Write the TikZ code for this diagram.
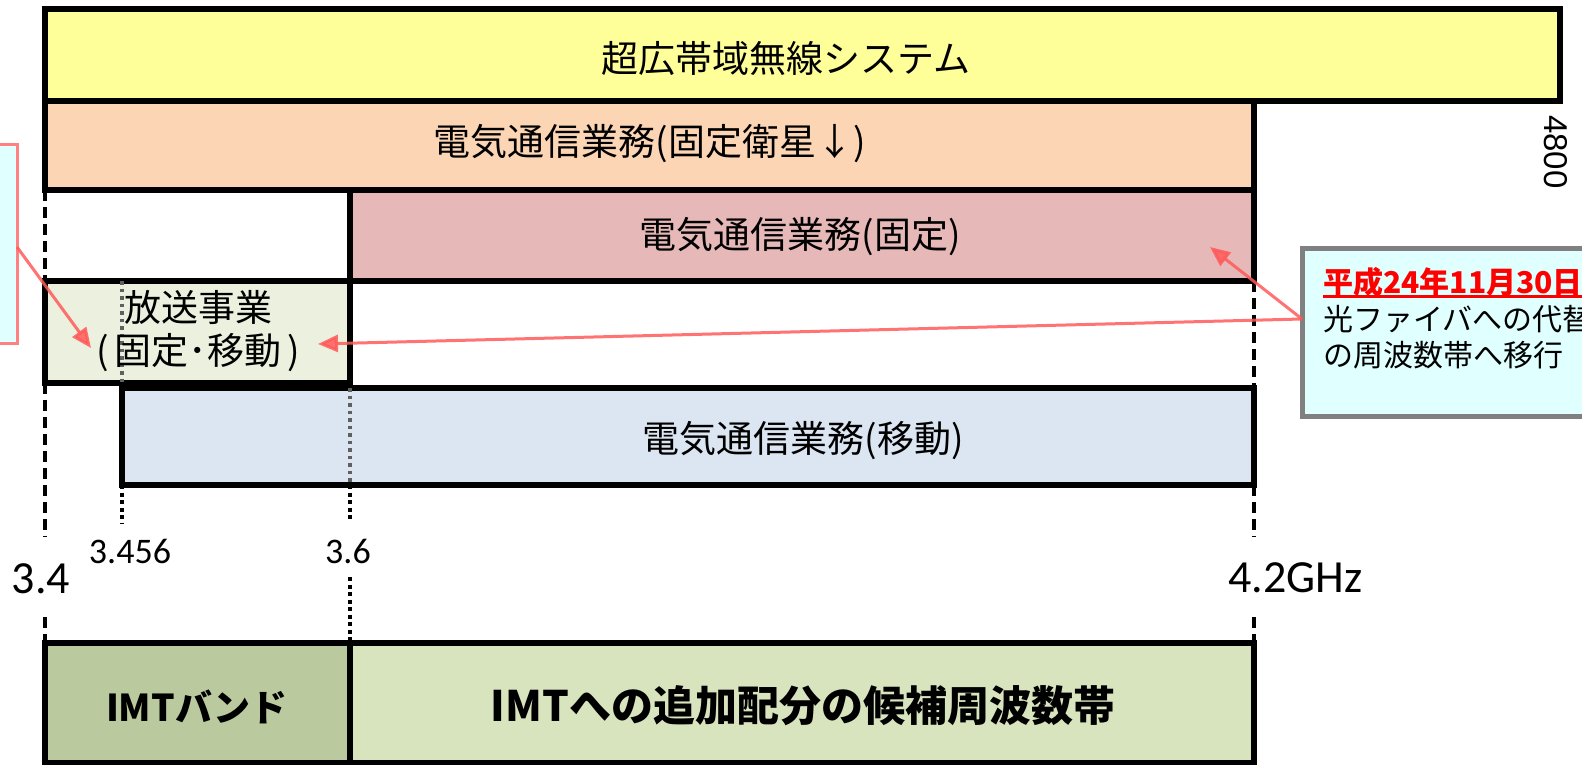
\documentclass[tikz,border=0pt]{standalone}
\usepackage{fontspec}
\setmainfont{Carlito}
\newfontfamily\jp{Noto Sans CJK JP}
\newfontfamily\arialf{Liberation Sans}
\usetikzlibrary{arrows.meta}
\definecolor{cyellow}{HTML}{FFFF99}
\definecolor{corange}{HTML}{FCD5B5}
\definecolor{cred}{HTML}{E6B9B8}
\definecolor{cgreen}{HTML}{EBF1DE}
\definecolor{cblue}{HTML}{DCE6F2}
\definecolor{cimt}{HTML}{BBCA9E}
\definecolor{cimtadd}{HTML}{D8E4BD}
\definecolor{ccall}{HTML}{E0FFFF}
\definecolor{carrow}{HTML}{FF5A5A}
\definecolor{cpink}{HTML}{FF8080}
\definecolor{cdot}{HTML}{606060}
\newcommand\myuline[1]{\setbox0\hbox{#1}\rlap{\rule[-4.5pt]{\wd0}{2.5pt}}\box0}
\begin{document}
\begin{tikzpicture}[x=1pt,y=-1pt,
  band/.style={draw=black, line width=5.2pt, inner sep=0pt, outer sep=0pt, anchor=north west, rectangle},
  lbl/.style={font=\jp\fontsize{37}{40}\selectfont, inner sep=0pt},
  boldlbl/.style={font=\jp\bfseries\fontsize{#1}{#1}\selectfont, inner sep=0pt},
  smallnum/.style={font=\fontsize{36}{36}\selectfont, inner sep=0pt, anchor=base},
  bignum/.style={font=\fontsize{46}{46}\selectfont, inner sep=0pt},
  dashline/.style={draw=black, line width=3.8pt, dash pattern=on 11pt off 6pt},
  dotline/.style={draw=black, line width=3.8pt, dash pattern=on 4pt off 3.5pt},
  graydot/.style={draw=cdot, line width=3.5pt, dash pattern=on 3.5pt off 4pt},
  callarrow/.style={draw=carrow, line width=3pt, opacity=0.85, -{Triangle[length=20pt,width=17pt]}},
  calltext/.style={font=\jp\fontsize{30}{30}\selectfont, inner sep=0pt, anchor=base west}
]
\useasboundingbox (0,0) rectangle (1582,765);

% bands
\node[band, fill=cyellow, minimum width=1515pt, minimum height=92pt] (uwb) at (45,9) {};
\node[band, fill=corange, minimum width=1209pt, minimum height=89pt] (fss) at (45,101) {};
\node[band, fill=cred, minimum width=904pt, minimum height=91pt] (fixed) at (350,190) {};
\node[band, fill=cgreen, minimum width=305pt, minimum height=102pt] (bcast) at (45,281) {};
\node[band, fill=cblue, minimum width=1132pt, minimum height=97pt] (mobile) at (122,388) {};
\node[band, fill=cimt, minimum width=305pt, minimum height=120pt] (imt) at (45,643) {};
\node[band, fill=cimtadd, minimum width=904pt, minimum height=120pt] (imtadd) at (350,643) {};

% callout boxes
\node[draw=cpink, line width=3pt, fill=ccall, minimum width=200pt, minimum height=198pt, anchor=north east, outer sep=0pt, inner sep=0pt] (lcall) at (17,145) {};
\node[draw=gray, line width=5pt, fill=ccall, minimum width=400pt, minimum height=168pt, anchor=north west, outer sep=0pt, inner sep=0pt] (rcall) at (1302,248) {};

% tick coordinates
\coordinate (t34a) at (45,537);
\coordinate (t34b) at (45,617);
\coordinate (t42a) at (1254,537);
\coordinate (t42b) at (1254,617);
\coordinate (t3456) at (122,524);
\coordinate (t36a) at (350,522);
\coordinate (t36b) at (350,577);

% dashed / dotted guide lines
\draw[dashline] (fss.south west) -- (bcast.north west);
\draw[dashline] (bcast.south west) -- (t34a);
\draw[dashline] (t34b) -- (imt.north west);
\draw[dashline] (fixed.south east) -- (mobile.north east);
\draw[dashline] (mobile.south east) -- (t42a);
\draw[dashline] (t42b) -- (imtadd.north east);
\draw[graydot] (mobile.north west |- bcast.north) -- (mobile.north west |- bcast.south);
\draw[dotline] (mobile.south west) -- (t3456);
\draw[graydot] (bcast.south east |- mobile.north) -- (bcast.south east |- mobile.south);
\draw[dotline] (bcast.south east |- mobile.south) -- (t36a);
\draw[dotline] (t36b) -- (imt.north east);

% band labels
\node[lbl] (uwbt) at (786,58) {超広帯域無線システム};
\node[lbl] (fsst) at (650,144) {電気通信業務(固定衛星↓)};
\node[lbl] (fixedt) at (800,237) {電気通信業務(固定)};
\node[lbl] (bcastt1) at (198,307) {放送事業};
\node[lbl] (bcastt2) at (198,353) {(\,固定･移動\,)};
\node[lbl] (mobilet) at (803,441) {電気通信業務(移動)};
\node[boldlbl=37] (imtt) at (197,707) {IMTバンド};
\node[boldlbl=42] (imtaddt) at (803,706) {IMTへの追加配分の候補周波数帯};

% axis labels
\node[bignum, anchor=base] (l34) at (41,593) {3.4};
\node[smallnum] (l3456) at (130,563) {3.456};
\node[smallnum] (l36) at (348,563) {3.6};
\node[bignum, anchor=base west] (l42) at (1228,592) {4.2GHz};
\node[font=\arialf\fontsize{33}{33}\selectfont, inner sep=0pt, rotate=-90] (l4800) at (1556,152) {4800};

% callout text
\node[calltext, font=\jp\bfseries\fontsize{30}{30}\selectfont, text=red] (rdate) at (1323,293) {\myuline{平成24年11月30日}};
\node[calltext] (rline2) at (1323,330) {光ファイバへの代替};
\node[calltext] (rline3) at (1323,366) {の周波数帯へ移行};

% arrows
\coordinate (tipL) at (91,348);
\coordinate (tipFixed) at (1210,247);
\coordinate (tipB) at (318,344);
\draw[callarrow] ([yshift=-3pt]lcall.east) -- (tipL);
\draw[callarrow] ([yshift=13pt]rcall.west) -- (tipFixed);
\draw[callarrow] ([yshift=13pt]rcall.west) -- (tipB);
\end{tikzpicture}
\end{document}
